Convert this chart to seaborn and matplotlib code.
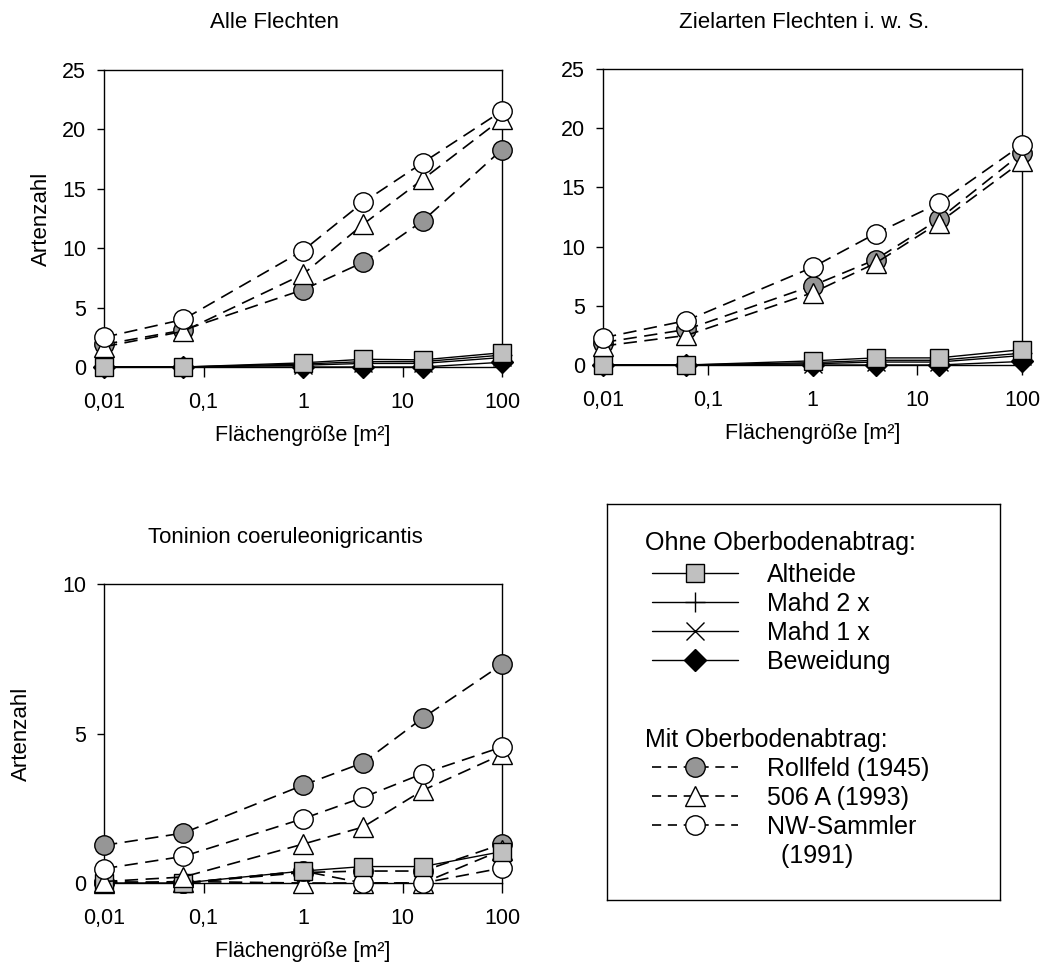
import matplotlib
matplotlib.use("Agg")
import matplotlib.pyplot as plt
import seaborn as sns
from matplotlib.lines import Line2D

# ---------------- data ----------------
sizes = [0.01, 0.0625, 1, 4, 16, 100]
xtick_values = [0.01, 0.1, 1, 10, 100]
xtick_labels = ["0,01", "0,1", "1", "10", "100"]

titles = ["Alle Flechten", "Zielarten Flechten i. w. S.", "Toninion coeruleonigricantis"]
x_label = "Flächengröße [m²]"
y_label = "Artenzahl"

# Alle Flechten
alle_altheide = [0, 0, 0.35, 0.65, 0.6, 1.2]
alle_mahd2 = [0, 0, 0.25, 0.45, 0.45, 1.0]
alle_mahd1 = [0, 0, 0.15, 0.3, 0.3, 0.8]
alle_beweidung = [0, 0, 0, 0, 0, 0.4]
alle_rollfeld = [1.9, 3.1, 6.5, 8.8, 12.3, 18.3]
alle_506a = [1.7, 3.0, 7.8, 12.0, 15.8, 20.9]
alle_nw = [2.5, 4.0, 9.8, 13.85, 17.2, 21.55]

# Zielarten Flechten i. w. S.
ziel_altheide = [0, 0, 0.35, 0.6, 0.6, 1.3]
ziel_mahd2 = [0, 0, 0.2, 0.4, 0.4, 1.0]
ziel_mahd1 = [0, 0, 0.1, 0.25, 0.25, 0.8]
ziel_beweidung = [0, 0, 0, 0, 0, 0.3]
ziel_rollfeld = [1.9, 3.0, 6.7, 8.9, 12.3, 17.9]
ziel_506a = [1.6, 2.5, 6.1, 8.6, 12.0, 17.2]
ziel_nw = [2.3, 3.75, 8.25, 11.1, 13.65, 18.6]

# Toninion coeruleonigricantis
ton_altheide = [0, 0, 0.4, 0.55, 0.55, 1.05]
ton_mahd2 = [0, 0, 0.35, 0.4, 0.4, 1.3]
ton_mahd1 = [0, 0.05, 0, 0, 0, 1.1]
ton_beweidung = [0.05, 0, 0.4, 0, 0, 0.5]
ton_rollfeld = [1.26, 1.67, 3.27, 4.02, 5.52, 7.31]
ton_506a = [0.05, 0.2, 1.3, 1.87, 3.1, 4.3]
ton_nw = [0.48, 0.89, 2.15, 2.86, 3.66, 4.55]

ohne_names = ["Altheide", "Mahd 2 x", "Mahd 1 x", "Beweidung"]
mit_names = ["Rollfeld (1945)", "506 A (1993)", "NW-Sammler"]

# ---------------- styles ----------------
DASH = (0, (8, 4.5))
LEG_DASH = (0, (5.5, 4))
SQ_GRAY = "#c0c0c0"
CI_GRAY = "#969696"
style = {
    "Altheide": dict(marker="s", markersize=13, markerfacecolor=SQ_GRAY, linestyle="-", lw=1.0),
    "Mahd 2 x": dict(marker="+", markersize=15, markerfacecolor="none", linestyle="-", lw=1.0),
    "Mahd 1 x": dict(marker="x", markersize=13, markerfacecolor="none", linestyle="-", lw=1.0),
    "Beweidung": dict(marker="D", markersize=11, markerfacecolor="black", linestyle="-", lw=1.0),
    "Rollfeld (1945)": dict(marker="o", markersize=14, markerfacecolor=CI_GRAY, linestyle=DASH, lw=1.2),
    "506 A (1993)": dict(marker="^", markersize=15, markerfacecolor="white", linestyle=DASH, lw=1.2),
    "NW-Sammler": dict(marker="o", markersize=14, markerfacecolor="white", linestyle=DASH, lw=1.2),
}
# in the third panel the "ohne" series other than Altheide are drawn with open-soil styles
style_ton_extra = {
    "Mahd 2 x": dict(marker="o", markersize=14, markerfacecolor=CI_GRAY, linestyle=DASH, lw=1.2),
    "Mahd 1 x": dict(marker="^", markersize=15, markerfacecolor="white", linestyle=DASH, lw=1.2),
    "Beweidung": dict(marker="o", markersize=14, markerfacecolor="white", linestyle=DASH, lw=1.2),
}

panels = [
    dict(title=titles[0], ylim=(0, 25), yticks=[0, 5, 10, 15, 20, 25], ylabel=True,
         ohne=[alle_altheide, alle_mahd2, alle_mahd1, alle_beweidung],
         mit=[alle_rollfeld, alle_506a, alle_nw], extra={}),
    dict(title=titles[1], ylim=(0, 25), yticks=[0, 5, 10, 15, 20, 25], ylabel=False,
         ohne=[ziel_altheide, ziel_mahd2, ziel_mahd1, ziel_beweidung],
         mit=[ziel_rollfeld, ziel_506a, ziel_nw], extra={}),
    dict(title=titles[2], ylim=(0, 10), yticks=[0, 5, 10], ylabel=True,
         ohne=[ton_altheide, ton_mahd2, ton_mahd1, ton_beweidung],
         mit=[ton_rollfeld, ton_506a, ton_nw], extra=style_ton_extra),
]

# ---------------- figure ----------------
sns.set_style("white")
plt.rcParams["font.family"] = ["Liberation Sans", "DejaVu Sans"]
plt.rcParams["axes.unicode_minus"] = False
plt.rcParams["text.color"] = "black"
plt.rcParams["axes.labelcolor"] = "black"
plt.rcParams["xtick.color"] = "black"
plt.rcParams["ytick.color"] = "black"

W, H = 1048, 972
fig = plt.figure(figsize=(W / 100, H / 100), dpi=100)
fig.patch.set_facecolor("white")


def fr(left, top, right, bottom):
    return [left / W, 1 - bottom / H, (right - left) / W, (bottom - top) / H]


rects = [fr(104, 70, 502, 367), fr(603, 69, 1022, 365), fr(104, 584, 502, 883)]
title_pos = [(275, 22), (804, 22), (285, 537)]
ylabel_x = [52, None, 32]

TICK_FS = 15.5
LAB_FS = 15.5

for p, rect, tpos, ylx in zip(panels, rects, title_pos, ylabel_x):
    ax = fig.add_axes(rect)
    ax.set_xscale("log")
    ax.set_xlim(0.01, 100)
    ax.set_ylim(*p["ylim"])

    def draw(vals, st, z):
        sns.lineplot(x=sizes, y=vals, ax=ax, color="black", markeredgecolor="black",
                     markeredgewidth=1.0, clip_on=False, errorbar=None, legend=False,
                     sort=False, zorder=z, **st)

    # draw order: background series first, Altheide squares on top of them
    order = [1, 2, 3, 0] if p["extra"] else [3, 2, 1, 0]
    z = 3
    for i in order:
        name = ohne_names[i]
        st = p["extra"].get(name, style[name])
        draw(p["ohne"][i], st, z)
        z += 0.1
    for i, name in enumerate(mit_names):
        draw(p["mit"][i], style[name], 4 + 0.1 * i)

    ax.set_xticks(xtick_values)
    ax.set_xticklabels(xtick_labels)
    ax.xaxis.set_minor_locator(matplotlib.ticker.NullLocator())
    ax.set_yticks(p["yticks"])
    ax.set_yticklabels([str(v) for v in p["yticks"]])
    ax.tick_params(axis="x", direction="out", length=7, width=1, pad=11,
                   labelsize=TICK_FS, colors="black", bottom=True, top=False)
    ax.tick_params(axis="y", direction="out", length=5, width=1, pad=8,
                   labelsize=TICK_FS, colors="black", left=True, right=False)
    for s in ax.spines.values():
        s.set_visible(True)
        s.set_color("black")
        s.set_linewidth(1.0)
    ax.grid(False)
    ax.set_facecolor("white")

    ax.set_xlabel(x_label, fontsize=LAB_FS, color="black")
    ax.xaxis.set_label_coords(0.5, -58 / (rect[3] * H))
    if p["ylabel"]:
        ax.set_ylabel(y_label, fontsize=16, color="black")
        left_px = rect[0] * W
        ax.yaxis.set_label_coords((ylx - left_px) / (rect[2] * W), 0.5)
    else:
        ax.set_ylabel("")

    # title
    fig.text(tpos[0] / W, 1 - tpos[1] / H, p["title"], fontsize=16,
             ha="center", va="center", color="black")

# ---------------- legend box ----------------
LX0, LY0, LX1, LY1 = 607, 504, 1000, 900
lax = fig.add_axes(fr(LX0, LY0, LX1, LY1))
lax.set_xticks([])
lax.set_yticks([])
lax.set_xlim(0, 1)
lax.set_ylim(0, 1)
for s in lax.spines.values():
    s.set_visible(True)
    s.set_color("black")
    s.set_linewidth(1.0)
lw_, lh_ = LX1 - LX0, LY1 - LY0


def ax_x(px):
    return (px - LX0) / lw_


def ax_y(py):
    return (LY1 - py) / lh_


LEG_FS = 18
lax.text(ax_x(645), ax_y(543), "Ohne Oberbodenabtrag:", fontsize=LEG_FS,
         ha="left", va="center", transform=lax.transAxes, color="black")
lax.text(ax_x(645), ax_y(740), "Mit Oberbodenabtrag:", fontsize=LEG_FS,
         ha="left", va="center", transform=lax.transAxes, color="black")


def handle(name):
    st = dict(style[name])
    if st["linestyle"] != "-":
        st["linestyle"] = LEG_DASH
    return Line2D([], [], color="black", markeredgecolor="black", markeredgewidth=1.0, **st)


h1 = [handle(n) for n in ohne_names]
h2 = [handle(n) for n in mit_names] + [Line2D([], [], color="none")]
l2 = list(mit_names) + ["  (1991)"]

common = dict(loc="upper left", frameon=False, fontsize=LEG_FS, handlelength=3.44,
              handletextpad=1.16, labelspacing=0.2, borderpad=0, borderaxespad=0,
              numpoints=1, labelcolor="black")
leg1 = lax.legend(h1, ohne_names, bbox_to_anchor=(ax_x(652), ax_y(563)), **common)
lax.add_artist(leg1)
leg2 = lax.legend(h2, l2, bbox_to_anchor=(ax_x(652), ax_y(757)), **common)

fig.savefig("out.png", dpi=100, facecolor="white")
